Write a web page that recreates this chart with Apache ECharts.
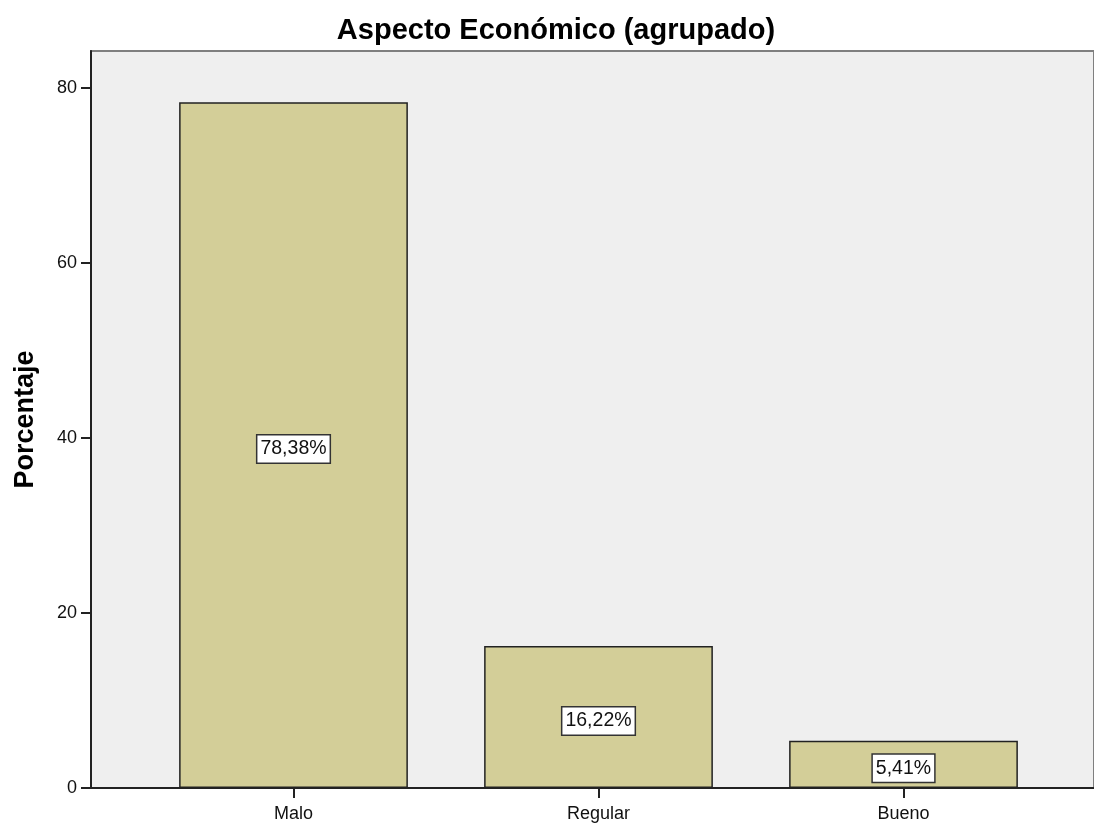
<!DOCTYPE html>
<html>
<head>
<meta charset="utf-8">
<script src="https://cdn.jsdelivr.net/npm/echarts@6/dist/echarts.min.js"></script>
<style>
  html, body { margin: 0; padding: 0; background: #fff; }
  #chart { width: 1094px; height: 823px; }
</style>
</head>
<body>
<div id="chart"></div>
<script>
// datos del gráfico
const categories = ['Malo', 'Regular', 'Bueno'];
const percentages = [78.38, 16.22, 5.41];
const yMax = 84.23;   // el eje llega un poco más allá de 80
const yStep = 20;

const FONT = 'Arial, "Liberation Sans", sans-serif';

let myChart = echarts.init(document.getElementById('chart'));
let option = {
  animation: false,
  textStyle: { fontFamily: FONT },
  title: {
    text: 'Aspecto Económico (agrupado)',
    left: 551,
    textAlign: 'center',
    top: 11,
    textStyle: { fontSize: 29, fontWeight: 'bold', color: '#000', fontFamily: FONT }
  },
  grid: [
    // fondo gris del área de trazado (se corta por la derecha)
    {
      left: 91, top: 51, width: 1040, bottom: 35,
      show: true,
      backgroundColor: '#efefef',
      borderColor: '#7f7f7f',
      borderWidth: 2
    },
    // barras
    { left: 141, top: 51, right: 38, bottom: 35 }
  ],
  xAxis: [
    {
      gridIndex: 0,
      type: 'category',
      data: [''],
      axisLine: { show: true, lineStyle: { color: '#222', width: 2 } },
      axisTick: { show: false },
      axisLabel: { show: false }
    },
    {
      gridIndex: 1,
      type: 'category',
      data: categories,
      axisLine: { show: false },
      axisTick: {
        show: true,
        alignWithLabel: true,
        length: 10,
        lineStyle: { color: '#222', width: 2 }
      },
      axisLabel: { fontSize: 18, color: '#111', margin: 17, fontFamily: FONT }
    }
  ],
  yAxis: [
    {
      gridIndex: 0,
      type: 'value',
      min: 0,
      max: yMax,
      interval: yStep,
      name: 'Porcentaje',
      nameLocation: 'middle',
      nameGap: 52,
      nameTextStyle: { fontSize: 27, fontWeight: 'bold', color: '#000', fontFamily: FONT },
      axisLine: { show: true, lineStyle: { color: '#222', width: 2 } },
      axisTick: { show: true, length: 10, lineStyle: { color: '#222', width: 2 } },
      axisLabel: {
        fontSize: 18, color: '#111', margin: 14, fontFamily: FONT,
        showMaxLabel: false
      },
      splitLine: { show: false }
    },
    {
      gridIndex: 1,
      type: 'value',
      min: 0,
      max: yMax,
      interval: yStep,
      show: false,
      splitLine: { show: false }
    }
  ],
  series: [
    {
      type: 'bar',
      xAxisIndex: 1,
      yAxisIndex: 1,
      data: percentages,
      barWidth: '75%',
      itemStyle: {
        color: '#d3ce98',
        borderColor: '#222',
        borderWidth: 1.5
      },
      label: {
        show: true,
        position: 'inside',
        offset: [0, 4],
        formatter: function (p) {
          return p.value.toFixed(2).replace('.', ',') + '%';
        },
        fontSize: 19.5,
        color: '#111',
        fontFamily: FONT,
        backgroundColor: '#fff',
        borderColor: '#333',
        borderWidth: 1.5,
        padding: [4, 3, 3, 3]
      }
    }
  ]
};

option && myChart.setOption(option);
</script>
</body>
</html>
